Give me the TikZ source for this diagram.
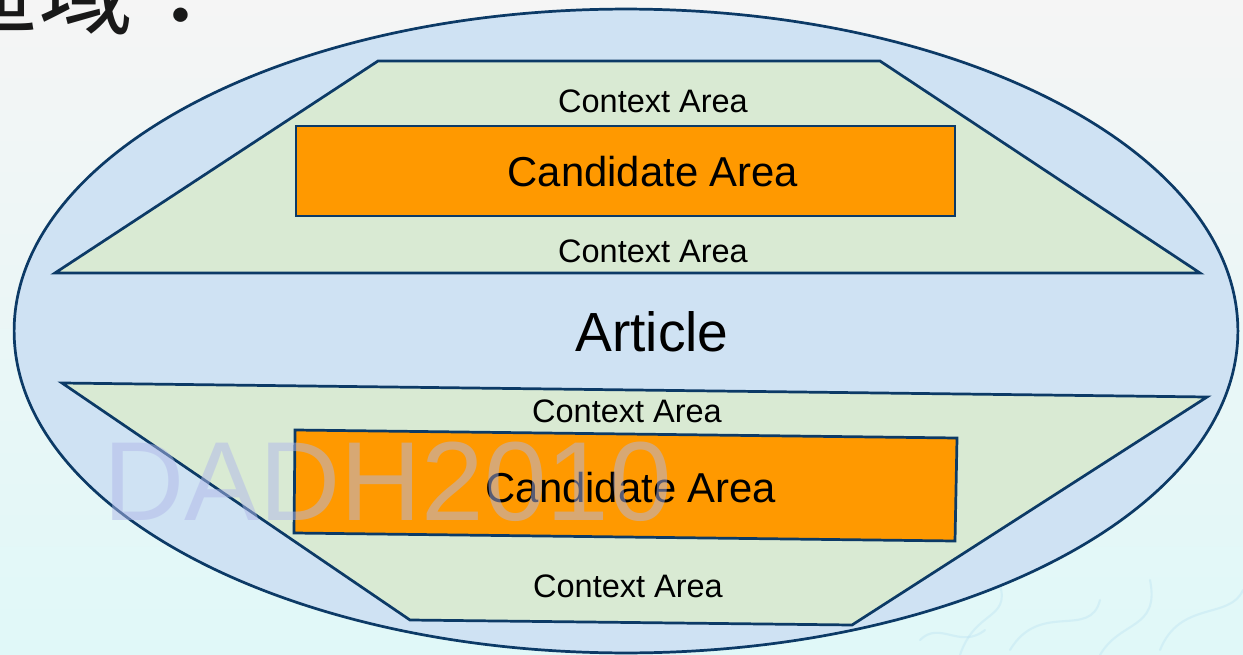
\documentclass[tikz,border=0pt]{standalone}
\usepackage{fontspec}
\setmainfont{Liberation Sans}
\newfontfamily\cjk{Noto Sans CJK TC}
\definecolor{bgtop}{RGB}{245,245,245}
\definecolor{bgbot}{RGB}{224,248,248}
\definecolor{ellfill}{RGB}{207,226,243}
\definecolor{navy}{RGB}{12,58,102}
\definecolor{ctxfill}{RGB}{217,234,211}
\definecolor{cand}{RGB}{255,153,0}
\definecolor{wm}{RGB}{176,184,233}
\definecolor{swirlc}{RGB}{188,226,242}
\begin{document}
\begin{tikzpicture}[x=0.02cm,y=-0.02cm,
  outline/.style={draw=navy, line width=1.55pt, line join=miter},
  ctxtxt/.style={font=\fontsize{18.5}{20}\selectfont, inner sep=0pt},
  candtxt/.style={font=\fontsize{23.8}{26}\selectfont, inner sep=0pt},
  swirl/.style={draw=swirlc, line width=1.2pt, opacity=0.4, line cap=round}]
\useasboundingbox (0,0) rectangle (1243,655);
\clip (0,0) rectangle (1243,655);
\shade[top color=bgtop, bottom color=bgbot] (0,0) rectangle (1243,655);
% decorative swirls
\path[swirl] (960,655) .. controls (975,610) and (1010,620) .. (1000,585);
\path[swirl] (1010,650) .. controls (1040,600) and (1090,640) .. (1100,600);
\path[swirl] (1100,655) .. controls (1120,620) and (1160,630) .. (1150,580);
\path[swirl] (1160,650) .. controls (1180,600) and (1230,620) .. (1243,590);
\path[swirl] (920,640) .. controls (940,620) and (960,650) .. (985,630);
% title fragment
\node[anchor=base west, font=\cjk\fontsize{54}{54}\selectfont, inner sep=0pt, text=black!90] (title) at (-57,28) {區域：};
% article ellipse
\path[outline, fill=ellfill] (626,331) ellipse [x radius=12.24cm, y radius=6.44cm];
% top context trapezoid
\path[outline, fill=ctxfill] (378,61) -- (880,61) -- (1200,273) -- (55,273) -- cycle;
\path[outline, fill=cand] (296,126) rectangle (955,216);
% bottom context trapezoid
\path[outline, fill=ctxfill] (62,383) -- (1207,397) -- (852,625) -- (410,620) -- cycle;
\path[outline, fill=cand] (295,430) -- (957,438) -- (955,541) -- (294,533) -- cycle;
% texts
\node[ctxtxt] (ctx1) at (653,101) {Context Area};
\node[candtxt] (cand1) at (653,172) {Candidate Area};
\node[ctxtxt] (ctx2) at (653,251) {Context Area};
\node[font=\fontsize{31.4}{34}\selectfont, inner sep=0pt] (article) at (652,332) {Article};
\node[ctxtxt] (ctx3) at (627,411) {Context Area};
\node[candtxt] (cand2) at (631,488) {Candidate Area};
\node[ctxtxt] (ctx4) at (628,586) {Context Area};
% watermark
\node[anchor=base west, text=wm, opacity=0.5, font=\fontsize{64}{64}\selectfont, inner sep=0pt] (wmark) at (103,520) {DADH2010};
\end{tikzpicture}
\end{document}
